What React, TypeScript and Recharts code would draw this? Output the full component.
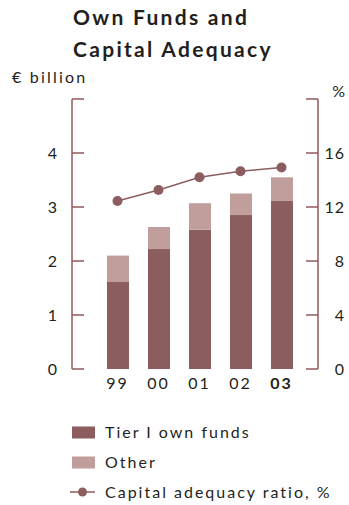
import React from 'react';
import { ComposedChart, Bar, Line, XAxis, YAxis } from 'recharts';

const years = ['99', '00', '01', '02', '03'];
const tierOne = [1.61, 2.22, 2.58, 2.85, 3.11];
const otherFunds = [0.49, 0.41, 0.49, 0.4, 0.44];
const adequacyRatio = [12.45, 13.26, 14.2, 14.65, 14.92];

const leftTicks = [0, 1, 2, 3, 4, 5];
const rightTicks = [0, 4, 8, 12, 16, 20];

const DARK = '#8c5d5f';
const LIGHT = '#c09e9c';
const AXIS = '#93595d';
const INK = '#231f20';
const FONT = 'Lato, "Noto Sans", sans-serif';

const data = years.map((year, i) => ({
  year,
  tier: tierOne[i],
  other: otherFunds[i],
  ratio: adequacyRatio[i],
}));

// ticks point into the plot, labels sit outside; the top tick is left unlabeled
const LeftTick = (props: any) => {
  const { x, y, payload } = props;
  return (
    <g>
      <line x1={x + 15} x2={x + 27} y1={y} y2={y} stroke={AXIS} strokeWidth={1.5} />
      {payload.value !== 5 && (
        <text x={x} y={y + 6} textAnchor="end" fontSize={16} fill={INK} fontFamily={FONT}>
          {payload.value}
        </text>
      )}
    </g>
  );
};

const RightTick = (props: any) => {
  const { x, y, payload } = props;
  return (
    <g>
      <line x1={x - 12} x2={x} y1={y} y2={y} stroke={AXIS} strokeWidth={1.5} />
      {payload.value !== 20 && (
        <text x={x + 27} y={y + 6} textAnchor="end" fontSize={16} letterSpacing={1} fill={INK} fontFamily={FONT}>
          {payload.value}
        </text>
      )}
    </g>
  );
};

const YearTick = (props: any) => {
  const { x, y, payload } = props;
  const last = payload.value === years[years.length - 1];
  return (
    <text
      x={x}
      y={y + 12}
      textAnchor="middle"
      fontSize={16}
      fontWeight={last ? 700 : 400}
      letterSpacing={2}
      fill={INK}
      fontFamily={FONT}
    >
      {payload.value}
    </text>
  );
};

const legendItems = [
  { label: 'Tier I own funds', color: DARK, kind: 'box' },
  { label: 'Other', color: LIGHT, kind: 'box' },
  { label: 'Capital adequacy ratio, %', color: DARK, kind: 'line' },
];

export default function App() {
  return (
    <div style={{ position: 'absolute', left: 0, top: 0, width: 349, height: 505, background: '#fff' }}>
      <ComposedChart
        width={349}
        height={505}
        data={data}
        margin={{ top: 99, right: 1, bottom: 106, left: 32 }}
      >
        <XAxis
          dataKey="year"
          axisLine={false}
          tickLine={false}
          tick={<YearTick />}
          height={30}
          padding={{ left: 25, right: 16 }}
        />
        <YAxis
          yAxisId="left"
          domain={[0, 5]}
          ticks={leftTicks}
          width={40}
          tickSize={0}
          tickMargin={15}
          axisLine={{ stroke: AXIS, strokeWidth: 1.5 }}
          tickLine={false}
          tick={<LeftTick />}
        />
        <YAxis
          yAxisId="right"
          orientation="right"
          domain={[0, 20]}
          ticks={rightTicks}
          width={30}
          tickSize={0}
          tickMargin={0}
          axisLine={{ stroke: AXIS, strokeWidth: 1.5 }}
          tickLine={false}
          tick={<RightTick />}
        />
        <Bar yAxisId="left" dataKey="tier" stackId="funds" fill={DARK} barSize={22} isAnimationActive={false} />
        <Bar yAxisId="left" dataKey="other" stackId="funds" fill={LIGHT} barSize={22} isAnimationActive={false} />
        <Line
          yAxisId="right"
          dataKey="ratio"
          stroke={DARK}
          strokeWidth={1.5}
          dot={{ r: 5, fill: DARK, stroke: DARK, strokeWidth: 0 }}
          isAnimationActive={false}
        />
      </ComposedChart>
      <svg
        width={349}
        height={505}
        style={{ position: 'absolute', left: 0, top: 0, pointerEvents: 'none' }}
        fontFamily={FONT}
      >
        <text x={73} y={25} fontSize={21} fontWeight={700} letterSpacing={2.3} fill={INK}>
          Own Funds and
        </text>
        <text x={73} y={57} fontSize={21} fontWeight={700} letterSpacing={2.3} fill={INK}>
          Capital Adequacy
        </text>
        <text x={12} y={83} fontSize={16} letterSpacing={2.2} fill={INK}>
          € billion
        </text>
        <text x={345} y={97} fontSize={16} textAnchor="end" fill={INK}>
          %
        </text>
        {legendItems.map((item, i) => {
          const cy = 432.5 + i * 30;
          return (
            <g key={item.label}>
              {item.kind === 'box' ? (
                <rect x={72} y={cy - 6} width={23} height={12} fill={item.color} />
              ) : (
                <g>
                  <line x1={70} x2={95} y1={cy - 0.5} y2={cy - 0.5} stroke={item.color} strokeWidth={1.5} />
                  <circle cx={82.5} cy={cy - 0.5} r={4.5} fill={item.color} />
                </g>
              )}
              <text x={105} y={cy + 5.5} fontSize={16} letterSpacing={2} fill={INK}>
                {item.label}
              </text>
            </g>
          );
        })}
      </svg>
    </div>
  );
}
